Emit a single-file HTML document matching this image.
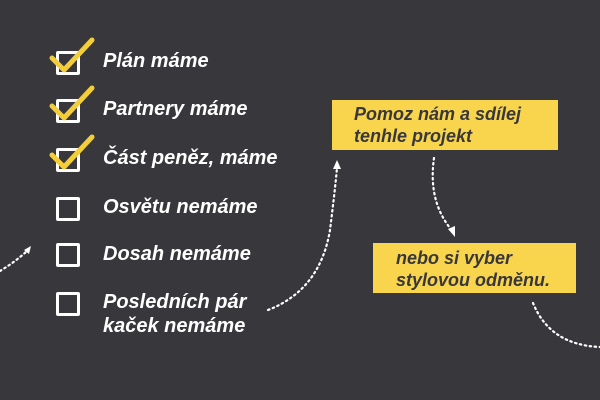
<!DOCTYPE html>
<html><head><meta charset="utf-8"><style>
body{margin:0;width:600px;height:400px;background:#38373c;overflow:hidden;position:relative;font-family:"Liberation Sans",sans-serif;}
.t{position:absolute;left:103px;color:#fff;font-weight:bold;font-style:italic;font-size:20px;line-height:24px;}
.b{position:absolute;left:56px;width:18px;height:18px;border:3px solid #fff;border-radius:2px;}
.y{position:absolute;background:#f9d54d;color:#38373c;font-weight:bold;font-style:italic;font-size:18px;line-height:22px;}
</style></head><body>
<div class="b" style="top:51px"></div>
<div class="b" style="top:99px"></div>
<div class="b" style="top:148px"></div>
<div class="b" style="top:197px"></div>
<div class="b" style="top:243px"></div>
<div class="b" style="top:292px"></div>
<svg width="600" height="400" style="position:absolute;left:0;top:0">
<g fill="none" stroke="#f4cd3a" stroke-width="5" stroke-linecap="round" stroke-linejoin="round">
<path d="M52 58 L64 70 L92 40" /><path d="M52 106 L64 118 L92 88"/><path d="M52 155 L64 167 L92 137"/>
</g>
<g fill="none" stroke="#fff" stroke-width="2.2" stroke-dasharray="1.5 3.5" stroke-linecap="round">
<path d="M0 271 Q15 262 27 251"/>
<path d="M268 310 Q320 290 330 230 Q335 190 337 168"/>
<path d="M434 158 Q428 200 450 228"/>
<path d="M533 303 Q550 345 600 347"/>
</g>
<g fill="#fff"><path d="M31 246 L24 250 L29 254 Z"/><path d="M337 160 L333 169 L341 169 Z"/><path d="M455 237 L448 229 L455 226 Z"/></g>
</svg>
<div class="t" style="top:49px">Plán máme</div>
<div class="t" style="top:97px">Partnery máme</div>
<div class="t" style="top:146px">Část peněz, máme</div>
<div class="t" style="top:195px">Osvětu nemáme</div>
<div class="t" style="top:242px">Dosah nemáme</div>
<div class="t" style="top:290px">Posledních pár<br>kaček nemáme</div>
<div class="y" style="left:332px;top:100px;width:226px;height:50px;"><div style="padding:3px 0 0 22px">Pomoz nám a sdílej<br>tenhle projekt</div></div>
<div class="y" style="left:373px;top:243px;width:203px;height:50px;"><div style="padding:4px 0 0 23px">nebo si vyber<br>stylovou odměnu.</div></div>
</body></html>
